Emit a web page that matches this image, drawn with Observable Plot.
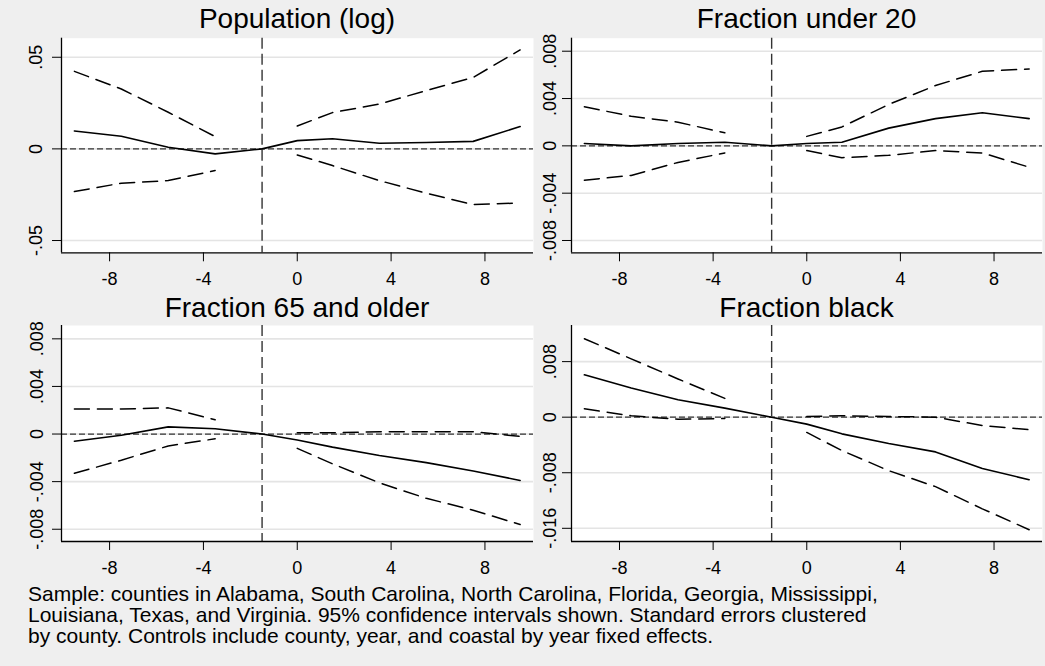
<!DOCTYPE html>
<html><head><meta charset="utf-8">
<script src="https://cdn.jsdelivr.net/npm/d3@7"></script>
<script src="https://cdn.jsdelivr.net/npm/@observablehq/plot@0.6"></script>
<style>
body{margin:0;background:#efefef;}
#wrap{position:relative;width:1045px;height:666px;background:#efefef;font-family:"Liberation Sans",Arial,sans-serif;overflow:hidden;color:#000}
.title{position:absolute;text-align:center;font-size:28px;line-height:30px;white-space:nowrap}
.panel{position:absolute}
#caption{position:absolute;left:28px;top:583px;font-size:21px;line-height:21px;white-space:nowrap}
</style></head><body><div id="wrap"></div>
<script>
// event-time positions
const xAll = [-9.5,-7.5,-5.5,-3.5,-1.5,0,1.5,3.5,5.5,7.5,9.5];
const xPre = [-9.5,-7.5,-5.5,-3.5];
const xPost = [0,1.5,3.5,5.5,7.5,9.5];
const xTicks = [-8,-4,0,4,8];
const eventX = -1.5;

const titles = ["Population (log)","Fraction under 20","Fraction 65 and older","Fraction black"];

// Population (log)
const popEst    = [0.0098,0.0069,0.0009,-0.0027,0,0.0045,0.0055,0.0031,0.0035,0.0041,0.0122];
const popHiPre  = [0.0423,0.0327,0.0200,0.0067];
const popLoPre  = [-0.0233,-0.0187,-0.0173,-0.0118];
const popHiPost = [0.0125,0.0198,0.0245,0.0318,0.0390,0.0540];
const popLoPost = [-0.0033,-0.0091,-0.0173,-0.0242,-0.0304,-0.0295];
const popTicks  = [-0.05,0,0.05];
const popLabels = ["-.05","0",".05"];

// Fraction under 20
const u20Est    = [0.0002,0.0000,0.0002,0.0003,0,0.0002,0.0003,0.0015,0.0023,0.0028,0.0023];
const u20HiPre  = [0.0033,0.0025,0.0020,0.0011];
const u20LoPre  = [-0.0029,-0.0025,-0.0014,-0.0006];
const u20HiPost = [0.0008,0.0016,0.0035,0.0051,0.0063,0.0065];
const u20LoPost = [-0.0004,-0.0010,-0.0008,-0.0004,-0.0006,-0.0018];
const u20Ticks  = [-0.008,-0.004,0,0.004,0.008];
const u20Labels = ["-.008","-.004","0",".004",".008"];

// Fraction 65 and older
const o65Est    = [-0.0006,-0.0001,0.0006,0.00045,0,-0.0005,-0.0011,-0.0018,-0.0024,-0.0031,-0.0039];
const o65HiPre  = [0.0021,0.0021,0.0022,0.0012];
const o65LoPre  = [-0.0033,-0.0022,-0.0010,-0.0004];
const o65HiPost = [0.0001,0.0001,0.0002,0.0002,0.0002,-0.0002];
const o65LoPost = [-0.0012,-0.0025,-0.0041,-0.0054,-0.0064,-0.0076];
const o65Ticks  = [-0.008,-0.004,0,0.004,0.008];
const o65Labels = ["-.008","-.004","0",".004",".008"];

// Fraction black
const blkEst    = [0.0061,0.0042,0.0025,0.0013,0,-0.0010,-0.0024,-0.0038,-0.0050,-0.0074,-0.0090];
const blkHiPre  = [0.0113,0.0084,0.0055,0.0027];
const blkLoPre  = [0.0012,0.0002,-0.0003,-0.0002];
const blkHiPost = [0.0001,0.0002,0.0001,0.0000,-0.0012,-0.0018];
const blkLoPost = [-0.0022,-0.0048,-0.0077,-0.0100,-0.0132,-0.0162];
const blkTicks  = [-0.016,-0.008,0,0.008];
const blkLabels = ["-.016","-.008","0",".008"];

const xDomain = [-10.05, 10.07];

const panels = [
  {title:titles[0], est:popEst, hiPre:popHiPre, loPre:popLoPre, hiPost:popHiPost, loPost:popLoPost, ticks:popTicks, labels:popLabels, domain:[-0.0567,0.0604]},
  {title:titles[1], est:u20Est, hiPre:u20HiPre, loPre:u20LoPre, hiPost:u20HiPost, loPost:u20LoPost, ticks:u20Ticks, labels:u20Labels, domain:[-0.00904,0.0091]},
  {title:titles[2], est:o65Est, hiPre:o65HiPre, loPre:o65LoPre, hiPost:o65HiPost, loPost:o65LoPost, ticks:o65Ticks, labels:o65Labels, domain:[-0.00903,0.00912]},
  {title:titles[3], est:blkEst, hiPre:blkHiPre, loPre:blkLoPre, hiPost:blkHiPost, loPost:blkLoPost, ticks:blkTicks, labels:blkLabels, domain:[-0.0179,0.0132]}
];

// layout: frame boxes
const layout = [
  {svgLeft:0,   svgTop:30,  W:540, H:270, fl:61,  fr:533,  ft:37.7, fb:252.3, labDx:-25,   pad:10, titleY:3.6},
  {svgLeft:540, svgTop:30,  W:505, H:270, fl:571, fr:1042, ft:37.7, fb:252.3, labDx:-21.5, pad:10, titleY:3.6},
  {svgLeft:0,   svgTop:317, W:540, H:270, fl:61,  fr:533,  ft:325,  fb:541,   labDx:-24.5, pad:11, titleY:292.6},
  {svgLeft:540, svgTop:317, W:505, H:270, fl:571, fr:1042, ft:325,  fb:541,   labDx:-21.5, pad:11, titleY:292.6}
];

const wrap = document.getElementById("wrap");
const font = '"Liberation Sans", Arial, sans-serif';

panels.forEach((p, k) => {
  const L = layout[k];
  const est = xAll.map((x,i)=>({x, y:p.est[i]}));
  const ci = [
    ...xPre.map((x,i)=>({x, y:p.hiPre[i], s:"hiPre"})),
    ...xPre.map((x,i)=>({x, y:p.loPre[i], s:"loPre"})),
    ...xPost.map((x,i)=>({x, y:p.hiPost[i], s:"hiPost"})),
    ...xPost.map((x,i)=>({x, y:p.loPost[i], s:"loPost"}))
  ];
  const yt = p.ticks.map((v,i)=>({v, label:p.labels[i]}));
  const chart = Plot.plot({
    width: L.W, height: L.H,
    marginLeft: L.fl - L.svgLeft,
    marginRight: L.svgLeft + L.W - L.fr,
    marginTop: L.ft - L.svgTop,
    marginBottom: L.svgTop + L.H - L.fb,
    style: {background:"transparent", fontFamily: font, fontSize:"18px", color:"#000", overflow:"visible"},
    x: {domain: xDomain, axis: null},
    y: {domain: p.domain, axis: null},
    marks: [
      Plot.frame({fill:"white", stroke:"none"}),
      Plot.gridY(p.ticks, {stroke:"#e4e4e4", strokeOpacity:1, strokeWidth:1.6}),
      Plot.ruleY([0], {stroke:"#333", strokeWidth:1.2, strokeDasharray:"6,3"}),
      Plot.ruleX([eventX], {stroke:"#333", strokeWidth:1.4, strokeDasharray:"11,5"}),
      Plot.line(ci, {x:"x", y:"y", z:"s", stroke:"#000", strokeWidth:1.5, strokeDasharray:"15,8"}),
      Plot.line(est, {x:"x", y:"y", stroke:"#000", strokeWidth:1.6}),
      Plot.ruleX([xDomain[0]], {stroke:"#000", strokeWidth:1.3}),
      Plot.ruleY([p.domain[0]], {stroke:"#000", strokeWidth:1.3}),
      Plot.axisX(xTicks, {tickSize:9, tickPadding:L.pad, tickFormat:d=>String(d), label:null, stroke:"#000", fontSize:18}),
      Plot.axisY(p.ticks, {tickSize:9, tickFormat:()=>"", label:null, stroke:"#000"}),
      Plot.text(yt, {y:"v", text:"label", frameAnchor:"left", dx:L.labDx, rotate:-90, textAnchor:"middle", lineAnchor:"middle", fontSize:18, fill:"#000"})
    ]
  });
  const box = document.createElement("div");
  box.className = "panel";
  box.style.left = L.svgLeft + "px";
  box.style.top = L.svgTop + "px";
  box.appendChild(chart);
  wrap.appendChild(box);

  const t = document.createElement("div");
  t.className = "title";
  t.style.left = L.fl + "px";
  t.style.width = (L.fr - L.fl) + "px";
  t.style.top = L.titleY + "px";
  t.textContent = p.title;
  wrap.appendChild(t);
});

const captionLines = [
  "Sample: counties in Alabama, South Carolina, North Carolina, Florida, Georgia, Mississippi,",
  "Louisiana, Texas, and Virginia. 95% confidence intervals shown. Standard errors clustered",
  "by county. Controls include county, year, and coastal by year fixed effects."
];
const cap = document.createElement("div");
cap.id = "caption";
captionLines.forEach((line) => {
  const d = document.createElement("div");
  d.textContent = line;
  cap.appendChild(d);
});
wrap.appendChild(cap);
</script></body></html>
